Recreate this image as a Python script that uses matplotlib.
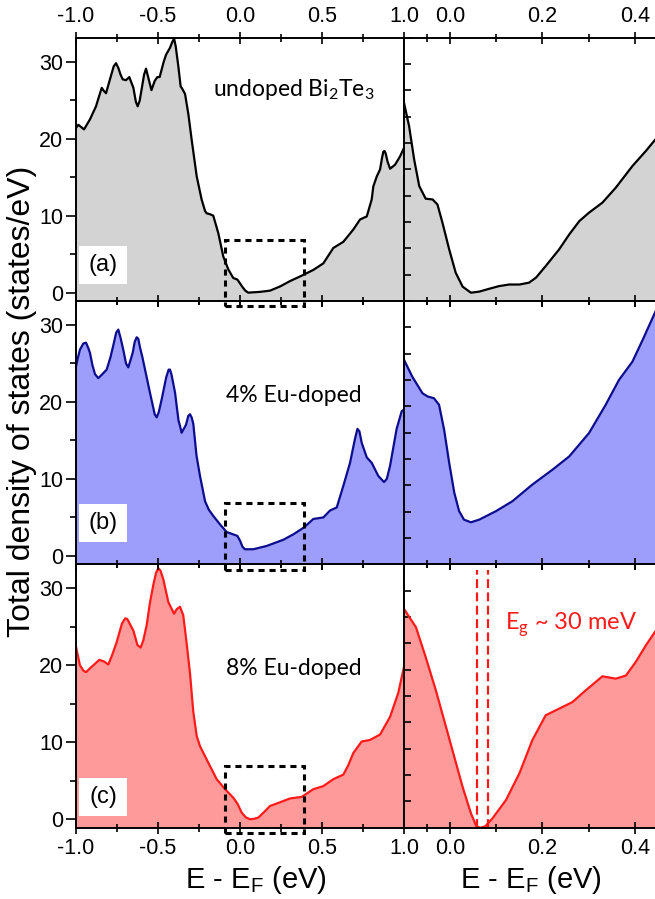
import matplotlib
matplotlib.use("Agg")
import matplotlib.pyplot as plt
from matplotlib.patches import Rectangle
from matplotlib.ticker import FixedLocator

plt.rcParams['font.family'] = ['Liberation Sans', 'DejaVu Sans']
plt.rcParams['mathtext.fontset'] = 'custom'
plt.rcParams['mathtext.rm'] = 'Liberation Sans'
plt.rcParams['mathtext.sf'] = 'Lato'

# ---- data (E - E_F in eV, DOS in states/eV) ----
e_a = [-1.0, -0.986, -0.968, -0.951, -0.915, -0.878, -0.855, -0.843, -0.83, -0.817, -0.793, -0.77,
       -0.756, -0.742, -0.728, -0.715, -0.695, -0.675, -0.65, -0.635, -0.624, -0.612, -0.6, -0.585,
       -0.573, -0.56, -0.54, -0.52, -0.504, -0.49, -0.465, -0.451, -0.427, -0.412, -0.402, -0.392,
       -0.376, -0.362, -0.35, -0.335, -0.315, -0.295, -0.264, -0.234, -0.213, -0.203, -0.185,
       -0.163, -0.132, -0.102, -0.071, -0.041, -0.016, 0.0, 0.016, 0.033, 0.05, 0.122, 0.183,
       0.244, 0.305, 0.376, 0.447, 0.508, 0.569, 0.63, 0.691, 0.732, 0.773, 0.803, 0.813, 0.834,
       0.854, 0.866, 0.874, 0.881, 0.888, 0.9, 0.915, 0.945, 0.976, 1.0]
dos_a = [21.4, 21.8, 21.5, 21.2, 22.5, 24.2, 25.8, 26.6, 26.2, 25.9, 27.7, 29.4,
         29.8, 29.2, 28.3, 27.7, 27.6, 28.0, 26.6, 24.8, 24.2, 24.9, 26.4, 28.3,
         29.1, 28.0, 26.3, 27.5, 28.0, 28.0, 30.0, 30.9, 31.8, 32.6, 33.0, 32.0,
         29.4, 26.8, 26.4, 25.8, 23.2, 19.9, 15.1, 12.1, 10.6, 10.3, 10.2,
         10.0, 7.7, 4.7, 3.0, 1.9, 1.7, 1.2, 0.7, 0.25, 0.0, 0.1, 0.26,
         0.8, 1.5, 2.2, 2.95, 3.8, 5.8, 6.6, 8.2, 9.5, 9.9, 12.1, 13.8, 15.1,
         16.0, 17.5, 18.3, 18.4, 18.1, 17.0, 16.1, 16.6, 17.7, 18.8]

e_b = [-1.0, -0.99, -0.976, -0.955, -0.939, -0.925, -0.915, -0.9, -0.884, -0.864, -0.84, -0.813,
       -0.79, -0.773, -0.755, -0.742, -0.728, -0.712, -0.695, -0.681, -0.668, -0.654, -0.642,
       -0.63, -0.62, -0.61, -0.595, -0.579, -0.549, -0.52, -0.508, -0.495, -0.477, -0.45, -0.435,
       -0.427, -0.418, -0.396, -0.375, -0.366, -0.356, -0.33, -0.315, -0.305, -0.295, -0.285,
       -0.265, -0.244, -0.213, -0.19, -0.163, -0.122, -0.081, -0.041, -0.016, 0.0, 0.015, 0.03,
       0.081, 0.163, 0.264, 0.325, 0.39, 0.447, 0.508, 0.549, 0.59, 0.63, 0.671, 0.701, 0.716,
       0.728, 0.742, 0.773, 0.803, 0.843, 0.878, 0.895, 0.915, 0.955, 0.986, 1.0]
dos_b = [24.6, 25.6, 26.8, 27.6, 27.7, 27.0, 26.4, 24.8, 23.6, 23.1, 23.6, 24.2,
         25.8, 27.3, 29.0, 29.4, 28.3, 26.8, 25.0, 24.5, 25.4, 26.4, 27.8,
         28.4, 28.2, 27.1, 25.8, 24.2, 21.2, 18.4, 18.0, 18.7, 20.4, 23.2, 24.2,
         24.2, 23.6, 21.2, 17.6, 16.9, 16.0, 17.0, 18.2, 18.4, 18.0, 17.2,
         13.0, 10.4, 7.1, 6.0, 5.2, 4.1, 3.1, 2.8, 2.6, 2.0, 1.2, 0.87,
         0.87, 1.3, 2.1, 2.8, 3.7, 4.8, 5.0, 5.9, 6.3, 9.1, 12.1, 15.2, 16.5,
         16.2, 14.7, 12.8, 12.1, 10.4, 9.6, 10.0, 11.7, 16.5, 18.8, 19.0]

e_c = [-1.0, -0.976, -0.955, -0.939, -0.915, -0.894, -0.858, -0.83, -0.803, -0.78, -0.752, -0.72,
       -0.7, -0.687, -0.67, -0.65, -0.625, -0.606, -0.59, -0.569, -0.55, -0.529, -0.512, -0.498,
       -0.485, -0.468, -0.437, -0.402, -0.385, -0.366, -0.346, -0.325, -0.305, -0.285, -0.264,
       -0.244, -0.203, -0.142, -0.091, -0.041, -0.015, 0.01, 0.035, 0.061, 0.085, 0.112, 0.15,
       0.183, 0.244, 0.305, 0.376, 0.447, 0.508, 0.569, 0.63, 0.66, 0.691, 0.742, 0.793, 0.854,
       0.915, 0.965, 1.0]
dos_c = [22.4, 20.0, 19.3, 19.1, 19.6, 20.0, 20.7, 20.5, 20.1, 21.3, 23.0, 25.4,
         26.1, 26.0, 25.3, 24.5, 22.6, 22.3, 23.2, 25.2, 28.0, 30.4, 32.0, 32.6,
         32.3, 31.2, 28.2, 26.7, 27.3, 27.6, 26.5, 22.8, 19.0, 14.0, 10.8,
         9.5, 7.75, 5.2, 3.9, 2.8, 2.0, 0.87, 0.25, 0.0, 0.05, 0.22, 1.0,
         1.72, 2.2, 2.7, 2.9, 3.9, 4.3, 5.2, 5.8, 7.0, 8.6, 10.1, 10.3, 11.0,
         13.3, 16.4, 19.8]

# zoomed windows near E_F (arbitrary units)
ez_a = [-0.1, -0.089, -0.078, -0.067, -0.053, -0.038, -0.0275, -0.0167, -0.002, 0.012, 0.027, 0.045,
        0.063, 0.085, 0.106, 0.128, 0.15, 0.171, 0.186, 0.207, 0.236, 0.258, 0.28, 0.301, 0.33,
        0.359, 0.395, 0.424, 0.45]
dz_a = [7.53, 6.65, 5.38, 4.37, 3.89, 3.86, 3.67, 2.98, 1.96, 1.08, 0.55, 0.32,
        0.36, 0.47, 0.57, 0.63, 0.63, 0.70, 0.89, 1.33, 1.96, 2.53, 3.04, 3.36, 3.74,
        4.31, 5.13, 5.70, 6.25]

ez_b = [-0.1, -0.082, -0.06, -0.049, -0.035, -0.024, -0.013, -0.002, 0.009, 0.0195, 0.03, 0.045,
        0.063, 0.099, 0.135, 0.178, 0.222, 0.258, 0.301, 0.337, 0.366, 0.395, 0.417, 0.45]
dz_b = [7.77, 7.13, 6.5, 6.38, 6.31, 6.06, 5.11, 3.85, 2.72, 2.02, 1.70, 1.60,
        1.70, 2.02, 2.40, 3.03, 3.60, 4.10, 4.99, 6.06, 7.01, 7.70, 8.52, 9.8]

ez_c = [-0.1, -0.074, -0.053, -0.031, -0.009, 0.009, 0.027, 0.045, 0.057, 0.066, 0.076, 0.092,
        0.121, 0.15, 0.178, 0.207, 0.236, 0.265, 0.294, 0.33, 0.359, 0.381, 0.402, 0.424, 0.45]
dz_c = [8.31, 7.61, 6.48, 5.22, 3.83, 2.69, 1.55, 0.55, 0.05, 0.0, 0.05, 0.36,
        1.05, 2.06, 3.32, 4.27, 4.52, 4.77, 5.22, 5.75, 5.66, 5.78, 6.29, 6.92, 7.6]

labels = ["(a)", "(b)", "(c)"]
names = [r"undoped Bi$_\mathsf{2}$Te$_\mathsf{3}$", "4% Eu-doped", "8% Eu-doped"]
gap_lines = [0.058, 0.083]
gap_text = r"E$_\mathsf{g}$ ~ 30 meV"

line_cols = ["black", "#0c0c8e", "#ff1a1a"]
fill_cols = ["#d3d3d3", "#9d9dfc", "#ff9a9a"]

W, H = 655, 899
fig = plt.figure(figsize=(W / 100, H / 100), dpi=100)

rows = [(e_a, dos_a, ez_a, dz_a), (e_b, dos_b, ez_b, dz_b), (e_c, dos_c, ez_c, dz_c)]
row_h = 263.3 / H
bottoms = [0.0793 + 2 * row_h, 0.0793 + row_h, 0.0793]
box_y = [(1.1, 6.1), (1.75, 6.7), (0.45, 5.4)]
name_y = [26.4, 20.8, 19.6]
YLO, YHI = -1.1, 33.1

for i, (e, d, ez, dz) in enumerate(rows):
    ax = fig.add_axes([76 / W, bottoms[i], 328 / W, row_h])
    ax.set_zorder(10 - i)
    ax.fill_between(e, d, YLO, color=fill_cols[i], lw=0)
    ax.plot(e, d, color=line_cols[i], lw=1.6, solid_joinstyle='round')
    ax.set_xlim(-1.0, 1.0)
    ax.set_ylim(YLO, YHI)
    ax.set_xticks([-1.0, -0.5, 0.0, 0.5, 1.0])
    ax.xaxis.set_minor_locator(FixedLocator([-0.75, -0.25, 0.25, 0.75]))
    ax.set_xticklabels(["-1.0", "-0.5", "0.0", "0.5", "1.0"])
    ax.set_yticks([0, 10, 20, 30])
    ax.yaxis.set_minor_locator(FixedLocator([5, 15, 25]))
    ax.tick_params(axis='x', which='both', top=True, bottom=True, direction='inout',
                   labeltop=(i == 0), labelbottom=(i == 2), labelsize=15.5, pad=3)
    ax.tick_params(axis='x', which='major', length=9, width=1.2)
    ax.tick_params(axis='x', which='minor', length=6, width=1.2)
    ax.tick_params(axis='y', which='both', direction='out', right=False, labelsize=15.5, pad=2)
    ax.tick_params(axis='y', which='major', length=7, width=1.2)
    ax.tick_params(axis='y', which='minor', length=4, width=1.2)
    for s in ax.spines.values():
        s.set_linewidth(1.4)

    # dashed box marking the zoomed window
    ax.add_patch(Rectangle((-0.09, -1.8), 0.48, 8.7, fill=False, ec='black', lw=2.2,
                           ls=(0, (2, 1.6)), clip_on=False, zorder=5))
    # panel letter in white box
    y0, y1 = box_y[i]
    ax.add_patch(Rectangle((-0.982, y0), 0.293, y1 - y0, fc='white', ec='none', zorder=4))
    ax.text(-0.835, (y0 + y1) / 2, labels[i], fontsize=17, ha='center', va='center', zorder=6)
    ax.text(0.33, name_y[i], names[i], family=['Lato', 'DejaVu Sans'], fontsize=16.5,
            ha='center', va='center')

    axr = fig.add_axes([404 / W, bottoms[i], 253.8 / W, row_h])
    axr.set_zorder(10 - i)
    axr.fill_between(ez, dz, 0, color=fill_cols[i], lw=0)
    axr.plot(ez, dz, color=line_cols[i], lw=1.6, solid_joinstyle='round')
    axr.set_xlim(-0.1, 0.45)
    axr.set_ylim(0, 10)
    axr.set_xticks([0.0, 0.2, 0.4])
    axr.set_xticklabels(["0.0", "0.2", "0.4"])
    axr.xaxis.set_minor_locator(FixedLocator([-0.05, 0.1, 0.3]))
    axr.set_yticks(range(0, 11))
    axr.tick_params(axis='x', which='both', top=True, bottom=True, direction='inout',
                    labeltop=(i == 0), labelbottom=(i == 2), labelsize=15.5, pad=3)
    axr.tick_params(axis='x', which='major', length=9, width=1.2)
    axr.tick_params(axis='x', which='minor', length=6, width=1.2)
    axr.tick_params(axis='y', which='both', direction='in', length=5, width=1.2,
                    labelleft=False, right=False)
    for s in axr.spines.values():
        s.set_linewidth(1.4)

    if i == 2:
        for g in gap_lines:
            axr.axvline(g, ymin=0, ymax=0.98, color='#ff1a1a', lw=1.6, ls=(0, (4, 2)))
        axr.text(0.262, 7.7, gap_text, color='#ff1a1a', family=['Lato', 'DejaVu Sans'],
                 fontsize=17, ha='center', va='center')

fig.text(22 / W, 1 - 401 / H, "Total density of states (states/eV)", rotation=90,
         fontsize=23, ha='center', va='center')
fig.text(256 / W, 1 - 888 / H, r"E - E$_\mathrm{F}$ (eV)", fontsize=21, ha='center', va='baseline')
fig.text(531 / W, 1 - 888 / H, r"E - E$_\mathrm{F}$ (eV)", fontsize=21, ha='center', va='baseline')

fig.savefig("out.png", dpi=100)
